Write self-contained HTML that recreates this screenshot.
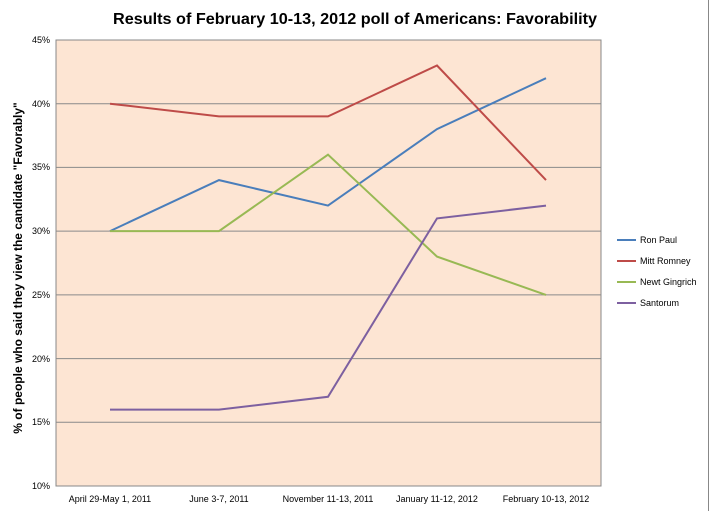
<!DOCTYPE html>
<html><head><style>body{margin:0;background:#fff}</style></head><body>
<svg width="711" height="511" xmlns="http://www.w3.org/2000/svg" font-family="Liberation Sans, sans-serif">
<rect x="0" y="0" width="711" height="511" fill="#fff"/>
<line x1="708.5" y1="0" x2="708.5" y2="511" stroke="#888"/>
<text x="355" y="24" font-size="16" font-weight="bold" text-anchor="middle" fill="#000" textLength="484" lengthAdjust="spacingAndGlyphs">Results of February 10-13, 2012 poll of Americans: Favorability</text>
<rect x="56" y="40" width="545" height="446" fill="#fde5d3" stroke="#888"/>
<g stroke="#8a8a8a" stroke-width="1">
<line x1="56" y1="103.7" x2="601" y2="103.7"/><line x1="56" y1="167.4" x2="601" y2="167.4"/>
<line x1="56" y1="231.1" x2="601" y2="231.1"/><line x1="56" y1="294.9" x2="601" y2="294.9"/>
<line x1="56" y1="358.6" x2="601" y2="358.6"/><line x1="56" y1="422.3" x2="601" y2="422.3"/>
</g>
<g font-size="9" text-anchor="end" fill="#000">
<text x="50" y="43">45%</text><text x="50" y="107">40%</text><text x="50" y="170">35%</text><text x="50" y="234">30%</text><text x="50" y="298">25%</text><text x="50" y="362">20%</text><text x="50" y="425">15%</text><text x="50" y="489">10%</text>
</g>
<g font-size="9" text-anchor="middle" fill="#000">
<text x="110" y="502">April 29-May 1, 2011</text><text x="219" y="502">June 3-7, 2011</text><text x="328" y="502">November 11-13, 2011</text><text x="437" y="502">January 11-12, 2012</text><text x="546" y="502">February 10-13, 2012</text>
</g>
<text transform="translate(22,268) rotate(-90)" font-size="12" font-weight="bold" text-anchor="middle">% of people  who said they view the candidate  "Favorably"</text>
<g fill="none" stroke-width="2">
<polyline stroke="#4a7ebb" points="110,231.1 219,180.1 328,205.6 437,129.1 546,78.2"/>
<polyline stroke="#be4b48" points="110,103.7 219,116.4 328,116.4 437,65.5 546,180.1"/>
<polyline stroke="#98b954" points="110,231.1 219,231.1 328,154.7 437,256.6 546,294.9"/>
<polyline stroke="#7d60a0" points="110,409.6 219,409.6 328,396.8 437,218.4 546,205.6"/>
</g>
<g font-size="9" fill="#000">
<line x1="617" y1="240" x2="636" y2="240" stroke="#4a7ebb" stroke-width="2"/><text x="640" y="243">Ron Paul</text>
<line x1="617" y1="261" x2="636" y2="261" stroke="#be4b48" stroke-width="2"/><text x="640" y="264">Mitt Romney</text>
<line x1="617" y1="282" x2="636" y2="282" stroke="#98b954" stroke-width="2"/><text x="640" y="285">Newt Gingrich</text>
<line x1="617" y1="303" x2="636" y2="303" stroke="#7d60a0" stroke-width="2"/><text x="640" y="306">Santorum</text>
</g>
</svg>
</body></html>
